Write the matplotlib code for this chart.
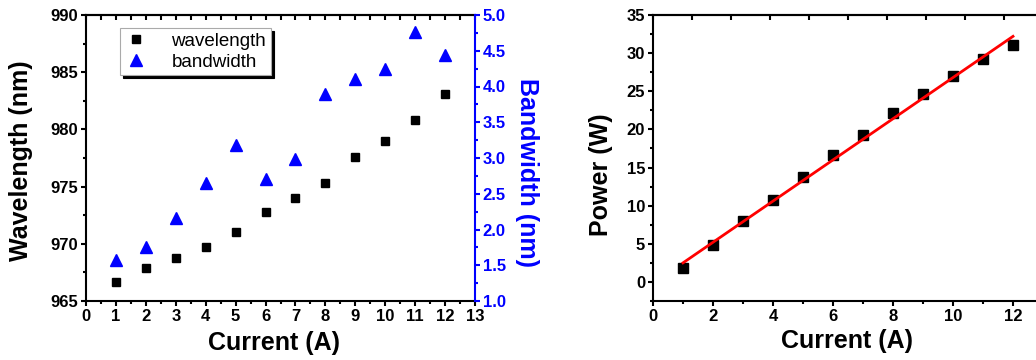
import numpy as np
import matplotlib
matplotlib.use("Agg")
import matplotlib.pyplot as plt
from matplotlib.ticker import MultipleLocator, FixedLocator, NullFormatter, FormatStrFormatter

plt.rcParams['font.family'] = ['Liberation Sans', 'DejaVu Sans']

# ---- data ----
current = [1, 2, 3, 4, 5, 6, 7, 8, 9, 10, 11, 12]
wavelength = [966.67, 967.87, 968.77, 969.68, 971.02, 972.75, 973.98, 975.32,
              977.57, 978.98, 980.85, 983.13]
bandwidth = [1.58, 1.75, 2.16, 2.65, 3.18, 2.71, 2.99, 3.90, 4.11, 4.25, 4.76, 4.44]
power = [1.84, 4.87, 8.04, 10.8, 13.7, 16.69, 19.32, 22.09, 24.59, 26.97, 29.25, 31.05]
fit_current = [1, 12]
fit_power = [2.5, 32.2]
top_ticks_right = [0, 1.3, 2.6, 3.9, 5.2, 6.5, 7.8, 9.1, 10.4, 11.7, 13.0]
right_ticks_right = [-2.5, 5, 12.5, 20, 27.5, 35]

W, H = 1036, 360
fig = plt.figure(figsize=(W / 100, H / 100), dpi=100)

BLUE = (0, 0, 1)
LABELFONT = dict(fontsize=18, fontweight='bold')
LW = 1.5
MAJ, MIN = 3.6, 2.2


def px_axes(x0, x1, y0, y1):
    return fig.add_axes([x0 / W, (H - y1) / H, (x1 - x0) / W, (y1 - y0) / H])


def px_text(x, y, s, **kw):
    fig.text(x / W, 1 - y / H, s, ha='center', va='center', **kw)


def style_common(ax):
    for s in ax.spines.values():
        s.set_linewidth(LW)
    ax.tick_params(which='both', direction='out', width=LW, labelsize=12)
    ax.tick_params(which='major', length=MAJ, pad=2)
    ax.tick_params(which='minor', length=MIN)
    for lab in ax.get_xticklabels() + ax.get_yticklabels():
        lab.set_fontweight('bold')


# ---------------- left panel ----------------
ax1 = px_axes(86, 475, 15, 301)
ax1.set_xlim(0, 13)
ax1.set_ylim(965, 990)
ax1.xaxis.set_major_locator(MultipleLocator(1))
ax1.xaxis.set_minor_locator(MultipleLocator(0.5))
ax1.yaxis.set_major_locator(MultipleLocator(5))
ax1.yaxis.set_minor_locator(MultipleLocator(2.5))
ax1.tick_params(which='both', right=False, top=False)
style_common(ax1)
ax1.spines['right'].set_visible(False)

ln1, = ax1.plot(current, wavelength, 's', color='black', markersize=5.5,
                linestyle='none', label='wavelength')

ax1r = ax1.twinx()
ax1r.set_ylim(1.0, 5.0)
ax1r.yaxis.set_major_locator(MultipleLocator(0.5))
ax1r.yaxis.set_minor_locator(MultipleLocator(0.25))
ax1r.yaxis.set_major_formatter(FormatStrFormatter('%.1f'))
style_common(ax1r)
ax1r.spines['right'].set_color(BLUE)
ax1r.spines['left'].set_visible(False)
ax1r.spines['top'].set_visible(False)
ax1r.spines['bottom'].set_visible(False)
ax1r.tick_params(axis='y', which='both', colors=BLUE)
for lab in ax1r.get_yticklabels():
    lab.set_fontweight('bold')
ln2, = ax1r.plot(current, bandwidth, '^', color=BLUE, markersize=8,
                 linestyle='none', label='bandwidth')

sec1 = ax1.secondary_xaxis('top')
sec1.xaxis.set_major_locator(MultipleLocator(0.5))
sec1.xaxis.set_major_formatter(NullFormatter())
sec1.tick_params(direction='in', length=MAJ, width=LW)
sec1.spines['top'].set_linewidth(LW)

leg = ax1r.legend(handles=[ln1, ln2], loc='upper left',
                  bbox_to_anchor=(0.087, 0.955), borderaxespad=0,
                  fancybox=False, framealpha=1, edgecolor='#aaaaaa',
                  shadow={'color': 'black', 'alpha': 1}, fontsize=13.5,
                  handlelength=1.2, handletextpad=1.3, borderpad=0.25,
                  labelspacing=0.2)
leg.get_frame().set_linewidth(0.8)

px_text(21, 161, 'Wavelength (nm)', rotation=90, **LABELFONT)
px_text(527, 173, 'Bandwidth (nm)', rotation=-90, color=BLUE, **LABELFONT)
px_text(274, 343, 'Current (A)', **LABELFONT)

# ---------------- right panel ----------------
ax2 = px_axes(653, 1043, 15, 301)
ax2.set_xlim(0, 13)
ax2.set_ylim(-2.5, 35)
ax2.xaxis.set_major_locator(FixedLocator([0, 2, 4, 6, 8, 10, 12]))
ax2.xaxis.set_minor_locator(MultipleLocator(1))
ax2.yaxis.set_major_locator(MultipleLocator(5))
ax2.yaxis.set_minor_locator(MultipleLocator(2.5))
ax2.tick_params(which='both', right=False, top=False)
style_common(ax2)
ax2.plot(current, power, 's', color='black', markersize=6.5, linestyle='none')
ax2.plot(fit_current, fit_power, '-', color='red', linewidth=2)

sec2 = ax2.secondary_xaxis('top')
sec2.xaxis.set_major_locator(FixedLocator(top_ticks_right))
sec2.xaxis.set_major_formatter(NullFormatter())
sec2.tick_params(direction='in', length=MAJ, width=LW)
sec2.spines['top'].set_linewidth(LW)

sec3 = ax2.secondary_yaxis('right')
sec3.yaxis.set_major_locator(FixedLocator(right_ticks_right))
sec3.yaxis.set_major_formatter(NullFormatter())
sec3.tick_params(direction='in', length=MAJ, width=LW)
sec3.spines['right'].set_linewidth(LW)

px_text(601, 175, 'Power (W)', rotation=90, **LABELFONT)
px_text(847, 341, 'Current (A)', **LABELFONT)

fig.savefig('out.png', dpi=100)
